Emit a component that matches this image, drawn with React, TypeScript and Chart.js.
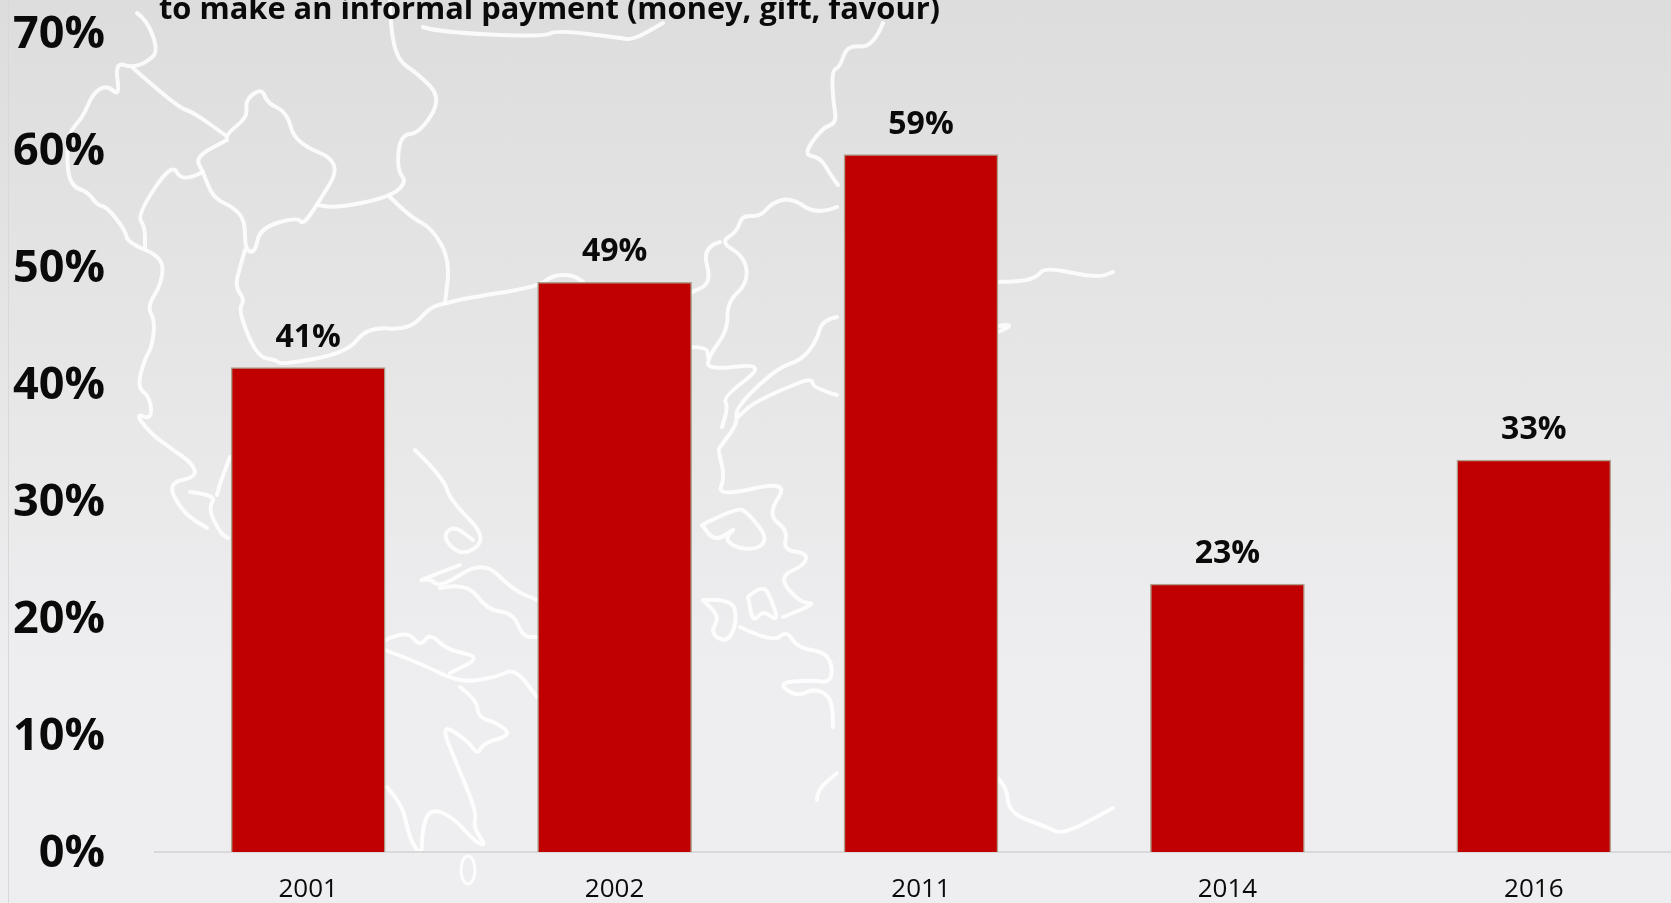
import React, { useEffect, useRef } from "react";
import { Chart, registerables } from "chart.js";

Chart.register(...registerables);

const categories = ["2001", "2002", "2011", "2014", "2016"];
const seriesValues = [41.4, 48.7, 59.6, 22.9, 33.5];
const valueLabels = ["41%", "49%", "59%", "23%", "33%"];
const titleText = "to make an informal payment (money, gift, favour)";
const FONT = '"Open Sans", sans-serif';

// Decorative background outline of the Balkans, traced as pixel paths.
const mapPaths = [
  "137,13 147,20 158,50 150,60 133,68 115,62 120,97 107,85 93,93 83,117 68,133 67,170 73,187 88,192 97,205 107,207 125,230 128,243 163,257 162,283 147,307 155,320 152,347 145,358 137,387 150,397 152,420 135,413 150,433 173,450 192,463 197,477 167,483 183,513 207,528",
  "133,68 177,107 193,112 225,135",
  "227,140 225,135 248,117 245,100 262,88 267,103 287,112 295,143 343,162 317,205 303,225 297,217 260,228 255,253 245,250 245,220 233,207 213,198 203,172 195,157 227,140",
  "203,172 182,183 172,162 137,215 145,227 145,248",
  "245,250 240,267 235,287 245,300 238,310 257,357 277,360 280,365 347,353 367,327 410,330 430,307 447,303 467,298 537,287 553,275 573,275 583,282",
  "390,0 390,23 397,60 417,73 442,98 420,133 400,135 397,170 407,182 390,197 337,208 317,205",
  "390,197 410,217 432,228 450,260 445,303",
  "423,27 437,32 543,37 557,30 620,38 633,40 663,23",
  "190,492 217,495 208,508 220,533 228,538",
  "230,457 220,483 217,495",
  "883,23 873,48 847,45 840,67 832,70 833,100 837,123 822,128 803,155 820,157 832,177 838,185",
  "837,207 817,215 792,198 773,202 760,217 742,215 737,232 720,242 745,257 748,283 727,302 728,330 708,357 708,370 768,363 723,397 728,407 722,427",
  "720,242 702,247 712,283 690,293",
  "690,347 707,347 708,357",
  "837,317 822,320 817,340 802,360 777,368 735,408 738,423 720,447 718,450 725,477 717,497 790,480 767,515 788,530 783,550 807,553 805,565 778,577 800,603 817,603 783,617",
  "837,395 813,388 812,378 788,387 753,403 738,417",
  "987,282 1020,282 1037,277 1045,267 1097,278 1113,272",
  "987,328 1018,322 993,335 987,330",
  "415,450 443,477 450,500 488,538 463,557 442,538 453,525 473,540",
  "460,565 415,582 430,578 440,588 483,560 513,590 537,600",
  "440,588 467,582 487,610 513,613 523,637 537,637",
  "385,640 407,630 420,647 430,633 447,650 482,657 450,673",
  "385,650 420,663 460,683 497,677 515,668 537,697",
  "460,687 477,700 478,717 497,723 512,735 483,743 478,755 467,740 440,723 458,767 477,813 473,827 487,847 473,840 453,817 430,808 422,830 422,857 410,840 403,807 387,787",
  "702,525 737,507 748,513 768,538 757,550 733,547 725,537 737,527 715,542 702,525",
  "703,600 733,598 737,623 727,643 710,633 720,617 703,600",
  "748,597 763,583 773,603 778,622 763,610 753,623 748,597",
  "740,627 773,643 787,630 797,648 830,653 833,683 810,680 777,683 797,697 815,688 832,698 833,727",
  "817,800 817,790 837,773",
  "987,770 1007,783 1008,813 1047,827 1063,835 1113,808",
];

// Rounds the traced outline's corners so it reads as a coastline.
function smoothPath(points: string): string {
  const pts = points.split(" ").map((p) => p.split(",").map(Number));
  let d = `M${pts[0][0]},${pts[0][1]}`;
  for (let i = 1; i < pts.length - 1; i++) {
    const mx = (pts[i][0] + pts[i + 1][0]) / 2;
    const my = (pts[i][1] + pts[i + 1][1]) / 2;
    d += ` Q${pts[i][0]},${pts[i][1]} ${mx},${my}`;
  }
  const last = pts[pts.length - 1];
  return `${d} L${last[0]},${last[1]}`;
}

const valueLabelPlugin = {
  id: "valueLabels",
  afterDatasetsDraw(chart: any) {
    const ctx = chart.ctx;
    ctx.save();
    ctx.fillStyle = "#0a0a0a";
    ctx.font = `bold 32px ${FONT}`;
    ctx.textAlign = "center";
    ctx.textBaseline = "alphabetic";
    chart.getDatasetMeta(0).data.forEach((bar: any, i: number) => {
      ctx.fillText(valueLabels[i], bar.x, bar.y - 21);
    });
    ctx.font = `bold 30.8px ${FONT}`;
    ctx.textAlign = "left";
    ctx.fillText(titleText, 159, 19);
    ctx.restore();
  },
};

export default function App() {
  const ref = useRef<HTMLCanvasElement>(null);
  useEffect(() => {
    const chart = new Chart(ref.current as HTMLCanvasElement, {
      type: "bar",
      data: {
        labels: categories,
        datasets: [
          {
            data: seriesValues,
            backgroundColor: "#c00000",
            borderColor: "#ae9f8b",
            borderWidth: 1.5,
            borderSkipped: "bottom",
            barThickness: 154,
          },
        ],
      },
      options: {
        animation: false,
        responsive: false,
        layout: { padding: { top: 33, right: 13, left: 0, bottom: 0 } },
        plugins: { legend: { display: false }, tooltip: { enabled: false } },
        scales: {
          x: {
            grid: { display: false, drawTicks: false },
            border: { color: "#d9d9d9", width: 2 },
            ticks: {
              color: "#0a0a0a",
              font: { family: FONT, size: 26 },
              padding: 22,
              maxRotation: 0,
            },
            afterFit(scale: any) {
              scale.height = 51;
              scale.paddingLeft = 0;
              scale.paddingRight = 0;
            },
          },
          y: {
            min: 0,
            max: 70,
            grid: { display: false, drawTicks: false },
            border: { display: false },
            ticks: {
              stepSize: 10,
              color: "#0a0a0a",
              font: { family: FONT, size: 45, weight: "bold" },
              padding: 50,
              labelOffset: 2,
              callback: (v: any) => `${v}%`,
            },
            afterFit(scale: any) {
              scale.width = 155;
              scale.paddingTop = 0;
              scale.paddingBottom = 0;
            },
          },
        },
      },
      plugins: [valueLabelPlugin],
    } as any);
    return () => chart.destroy();
  }, []);

  return (
    <div
      style={{
        position: "fixed",
        left: 0,
        top: 0,
        width: 1671,
        height: 903,
        overflow: "hidden",
        background: "linear-gradient(180deg, #dddddd 0%, #e6e6e7 40%, #eeeef0 75%, #eeeef0 100%)",
      }}
    >
      <div style={{ position: "absolute", left: 8, top: 0, width: 1, height: 903, background: "#d8d8d9" }} />
      <svg width={1671} height={903} style={{ position: "absolute", left: 0, top: 0 }}>
        {mapPaths.map((p, i) => (
          <path key={i} d={smoothPath(p)} fill="none" stroke="#ffffff" strokeOpacity={0.85} strokeWidth={4} strokeLinejoin="round" strokeLinecap="round" />
        ))}
        <ellipse cx={468} cy={870} rx={7} ry={14} fill="none" stroke="#ffffff" strokeOpacity={0.85} strokeWidth={3} />
      </svg>
      <canvas ref={ref} width={1700} height={903} style={{ position: "absolute", left: 0, top: 0, display: "block" }} />
    </div>
  );
}
